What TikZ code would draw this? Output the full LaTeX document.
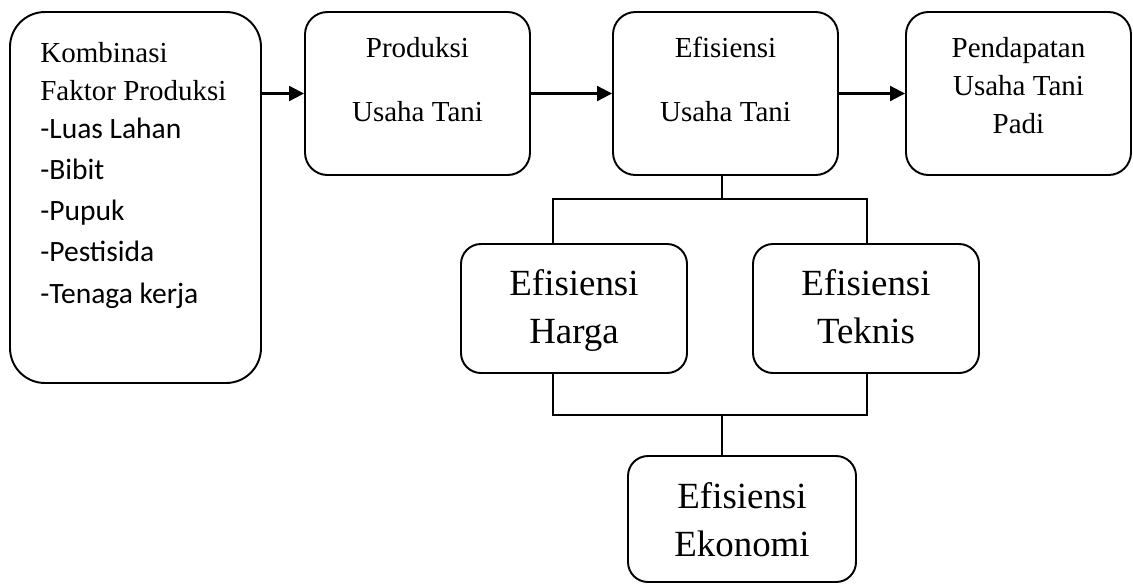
\documentclass[tikz,border=0pt]{standalone}
\usepackage{fontspec}
\setmainfont{Liberation Serif}
\newfontfamily\calibri{Carlito}
\usetikzlibrary{arrows.meta}

\tikzset{
  box/.style={draw,line width=1.1pt,rounded corners=0.45cm,inner sep=0},
  txt/.style={inner sep=0,align=center,font=\fontsize{16.5}{21.6}\selectfont},
  big/.style={inner sep=0,align=center,font=\fontsize{21}{27.3}\selectfont},
  arr/.style={line width=1.2pt,-{Triangle[length=8.5pt,width=8.5pt]}},
  link/.style={line width=0.85pt}
}
\newcommand\itemtxt[1]{{\calibri\fontsize{16.8}{23.3}\selectfont #1}}

\begin{document}
\begin{tikzpicture}[x=0.02cm,y=-0.02cm]
\useasboundingbox (0,0) rectangle (1133,583);
% top row
\node[box,rounded corners=0.7cm,minimum width=251*0.02cm,minimum height=371*0.02cm] (komb) at (135.5,197.5) {};
\node[box,minimum width=225*0.02cm,minimum height=163*0.02cm] (prod) at (417.5,93.5) {};
\node[box,minimum width=225*0.02cm,minimum height=163*0.02cm] (efut) at (725.5,93.5) {};
\node[box,minimum width=225*0.02cm,minimum height=163*0.02cm] (pend) at (1018.5,93.5) {};
\node[txt,align=left,anchor=base west] (kombtxt) at (40,303)
  {Kombinasi\\Faktor Produksi\\
   \itemtxt{-Luas Lahan}\\[1.8pt]
   \itemtxt{-Bibit}\\[1.8pt]
   \itemtxt{-Pupuk}\\[1.8pt]
   \itemtxt{-Pestisida}\\[1.8pt]
   \itemtxt{-Tenaga kerja}};
\node[txt,anchor=base] (prodtxt) at (417.5,121) {Produksi\\[14.8pt]Usaha Tani};
\node[txt,anchor=base] (efuttxt) at (725.5,121) {Efisiensi\\[14.8pt]Usaha Tani};
\node[txt,anchor=base] (pendtxt) at (1018.5,133) {Pendapatan\\Usaha Tani\\Padi};
\draw[arr] (komb.east |- prod.west) -- (prod.west);
\draw[arr] (prod) -- (efut);
\draw[arr] (efut) -- (pend);
% efficiency boxes
\node[box,rounded corners=0.4cm,minimum width=226*0.02cm,minimum height=129*0.02cm] (harga) at (574,308.5) {};
\node[box,rounded corners=0.4cm,minimum width=226*0.02cm,minimum height=129*0.02cm] (teknis) at (866,308.5) {};
\node[box,rounded corners=0.4cm,minimum width=228*0.02cm,minimum height=126*0.02cm] (ekon) at (742,519) {};
\node[big,anchor=base] (hargatxt) at (574,343) {Efisiensi\\Harga};
\node[big,anchor=base] (teknistxt) at (866,343) {Efisiensi\\Teknis};
\node[big,anchor=base] (ekontxt) at (742,556) {Efisiensi\\Ekonomi};
\coordinate (split) at (722,199);
\coordinate (merge) at (722,415);
\coordinate (hl) at (553,244);
\coordinate (hr) at (867,244);
\coordinate (bl) at (553,373);
\coordinate (br) at (867,373);
\draw[link] (efut.south -| split) -- (split);
\draw[link] (hl) |- (split) -| (hr);
\draw[link] (bl) |- (merge) -| (br);
\draw[link] (merge) -- (ekon.north -| merge);
\end{tikzpicture}
\end{document}
